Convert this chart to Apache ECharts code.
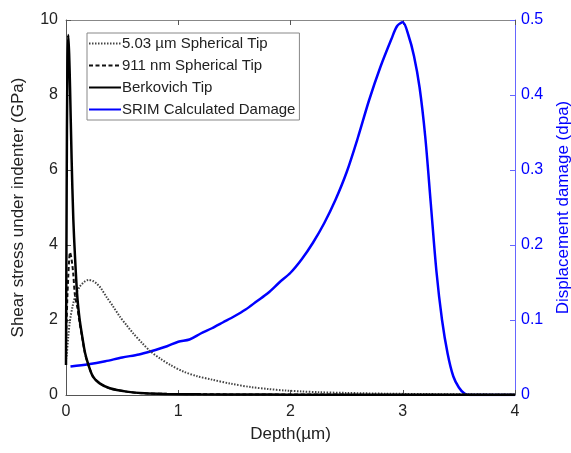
<!DOCTYPE html>
<html>
<head>
<meta charset="utf-8">
<script src="https://cdn.jsdelivr.net/npm/echarts@6/dist/echarts.min.js"></script>
<style>
html,body{margin:0;padding:0;background:#fff;}
#chart{width:571px;height:453px;}
</style>
</head>
<body>
<div id="chart"></div>
<script>
// ---- Data ----
var xTicks = [0, 1, 2, 3, 4];
var leftTicks = [0, 2, 4, 6, 8, 10];
var rightTicks = [0, 0.1, 0.2, 0.3, 0.4, 0.5];

var seriesNames = ['5.03 \u00b5m Spherical Tip', '911 nm Spherical Tip', 'Berkovich Tip', 'SRIM Calculated Damage'];

// 5.03 um spherical tip (GPa)
var sph5Depth = [0, 0.006, 0.02, 0.036, 0.06, 0.08, 0.1, 0.125, 0.16, 0.2, 0.24, 0.27, 0.31, 0.36, 0.42, 0.48, 0.54, 0.6, 0.68, 0.75, 0.84, 0.93, 1.05, 1.17, 1.3, 1.47, 1.65, 1.8, 1.95, 2.1, 2.25, 2.5, 2.85, 3.2, 3.6, 4.0];
var sph5Value = [0.95, 1.05, 1.55, 2.0, 2.38, 2.62, 2.77, 2.9, 3.01, 3.07, 3.04, 2.98, 2.85, 2.62, 2.36, 2.09, 1.86, 1.64, 1.38, 1.17, 0.97, 0.8, 0.62, 0.5, 0.41, 0.3, 0.21, 0.16, 0.12, 0.095, 0.075, 0.055, 0.035, 0.025, 0.018, 0.015];

// 911 nm spherical tip (GPa)
var sph911Depth = [0, 0.006, 0.012, 0.02, 0.028, 0.036, 0.045, 0.055, 0.065, 0.08, 0.1, 0.12, 0.14, 0.17, 0.2, 0.24, 0.3, 0.39, 0.54, 0.7, 0.9, 1.2, 1.6, 2.0, 2.5, 3.0, 3.5, 4.0];
var sph911Value = [1.4, 2.0, 2.6, 3.15, 3.6, 3.8, 3.7, 3.5, 3.22, 2.65, 2.35, 1.95, 1.6, 1.1, 0.8, 0.5, 0.31, 0.18, 0.09, 0.045, 0.03, 0.02, 0.015, 0.012, 0.01, 0.01, 0.01, 0.01];

// Berkovich tip (GPa)
var berkDepth = [0, 0.006, 0.012, 0.02, 0.028, 0.036, 0.05, 0.065, 0.08, 0.1, 0.12, 0.14, 0.17, 0.2, 0.24, 0.3, 0.39, 0.54, 0.7, 0.9, 1.2, 1.6, 2.0, 2.5, 3.0, 3.5, 4.0];
var berkValue = [0.8, 5.5, 8.6, 9.6, 9.1, 8.2, 6.3, 4.7, 3.7, 2.65, 2.05, 1.65, 1.12, 0.8, 0.49, 0.31, 0.18, 0.09, 0.045, 0.028, 0.018, 0.012, 0.01, 0.008, 0.008, 0.008, 0.008];

// SRIM calculated damage (dpa)
var srimDepth = [0.04, 0.2, 0.35, 0.5, 0.65, 0.75, 0.9, 1.0, 1.1, 1.2, 1.3, 1.4, 1.5, 1.6, 1.7, 1.8, 1.9, 2.0, 2.1, 2.2, 2.3, 2.4, 2.5, 2.6, 2.7, 2.8, 2.9, 2.95, 3.0, 3.05, 3.1, 3.15, 3.2, 3.25, 3.3, 3.35, 3.4, 3.45, 3.5, 3.55, 3.6, 3.8, 4.0];
var srimValue = [0.038, 0.041, 0.045, 0.05, 0.054, 0.058, 0.065, 0.071, 0.074, 0.082, 0.089, 0.097, 0.105, 0.114, 0.125, 0.136, 0.15, 0.163, 0.181, 0.203, 0.229, 0.26, 0.297, 0.343, 0.393, 0.437, 0.475, 0.492, 0.497, 0.48, 0.452, 0.41, 0.345, 0.255, 0.165, 0.1, 0.055, 0.025, 0.01, 0.002, 0, 0, 0];

function pairs(xs, ys) {
  var out = [];
  for (var i = 0; i < xs.length; i++) out.push([xs[i], ys[i]]);
  return out;
}

var FONT = '"Liberation Sans", Arial, Helvetica, sans-serif';
var AXIS_GRAY = '#555';
var BLUE = '#0000ff';

var chart = echarts.init(document.getElementById('chart'), null, {renderer: 'canvas'});

var option = {
  animation: false,
  backgroundColor: '#fff',
  textStyle: {fontFamily: FONT},
  grid: {left: 66, right: 56, top: 20, bottom: 58, containLabel: false, outerBoundsMode: 'none'},
  legend: {
    orient: 'vertical',
    left: 87,
    top: 33,
    data: seriesNames,
    backgroundColor: '#fff',
    borderColor: '#888',
    borderWidth: 1,
    borderRadius: 0,
    padding: [3, 4, 3, 1],
    itemWidth: 32,
    itemHeight: 14,
    itemGap: 7,
    itemStyle: {opacity: 0, borderWidth: 0},
    textStyle: {fontFamily: FONT, fontSize: 15, color: '#222', padding: [0, 0, 0, -4]}
  },
  xAxis: [{
    type: 'value',
    min: 0, max: 4, interval: 1,
    position: 'bottom',
    name: 'Depth(\u00b5m)',
    nameLocation: 'middle',
    nameGap: 31,
    nameTextStyle: {fontFamily: FONT, fontSize: 17, color: '#222'},
    axisLine: {show: true, onZero: false, lineStyle: {color: AXIS_GRAY, width: 1}},
    axisTick: {show: true, inside: true, length: 5, lineStyle: {color: AXIS_GRAY}},
    axisLabel: {fontFamily: FONT, fontSize: 16, color: '#222', margin: 9,
      formatter: function (v) { return xTicks.indexOf(v) >= 0 ? String(v) : ''; }},
    splitLine: {show: false}
  }, {
    type: 'value',
    min: 0, max: 4, interval: 1,
    position: 'top',
    axisLine: {show: true, onZero: false, lineStyle: {color: '#888', width: 1}},
    axisTick: {show: true, inside: true, length: 5, lineStyle: {color: AXIS_GRAY}},
    axisLabel: {show: false},
    splitLine: {show: false}
  }],
  yAxis: [{
    type: 'value',
    min: 0, max: 10, interval: 2,
    position: 'left',
    name: 'Shear stress under indenter (GPa)',
    nameLocation: 'middle',
    nameGap: 39,
    nameTextStyle: {fontFamily: FONT, fontSize: 17, color: '#222'},
    axisLine: {show: true, onZero: false, lineStyle: {color: AXIS_GRAY, width: 1}},
    axisTick: {show: true, inside: true, length: 5, lineStyle: {color: AXIS_GRAY}},
    axisLabel: {fontFamily: FONT, fontSize: 16, color: '#222', margin: 8,
      formatter: function (v) { return leftTicks.indexOf(v) >= 0 ? String(v) : ''; }},
    splitLine: {show: false}
  }, {
    type: 'value',
    min: 0, max: 0.5, interval: 0.1,
    position: 'right',
    name: 'Displacement damage (dpa)',
    nameLocation: 'middle',
    nameGap: 40,
    nameTextStyle: {fontFamily: FONT, fontSize: 17, color: BLUE},
    axisLine: {show: true, onZero: false, lineStyle: {color: '#6666ff', width: 1}},
    axisTick: {show: true, inside: true, length: 5, lineStyle: {color: '#6666ff'}},
    axisLabel: {fontFamily: FONT, fontSize: 16, color: BLUE, margin: 6,
      formatter: function (v) {
        for (var i = 0; i < rightTicks.length; i++) {
          if (Math.abs(rightTicks[i] - v) < 1e-9) return String(rightTicks[i]);
        }
        return '';
      }},
    splitLine: {show: false}
  }],
  series: [{
    name: seriesNames[0],
    type: 'line',
    xAxisIndex: 0, yAxisIndex: 0,
    data: pairs(sph5Depth, sph5Value),
    showSymbol: false, symbol: 'none',
    smooth: 0.3,
    color: '#444',
    lineStyle: {color: '#444', width: 2, type: [1.5, 1.5]},
    z: 3
  }, {
    name: seriesNames[1],
    type: 'line',
    xAxisIndex: 0, yAxisIndex: 0,
    data: pairs(sph911Depth, sph911Value),
    showSymbol: false, symbol: 'none',
    smooth: 0.3,
    color: '#111',
    lineStyle: {color: '#111', width: 2, type: [4, 2.5]},
    z: 4
  }, {
    name: seriesNames[2],
    type: 'line',
    xAxisIndex: 0, yAxisIndex: 0,
    data: pairs(berkDepth, berkValue),
    showSymbol: false, symbol: 'none',
    smooth: 0.3,
    color: '#000',
    lineStyle: {color: '#000', width: 2.5, type: 'solid'},
    z: 5
  }, {
    name: seriesNames[3],
    type: 'line',
    xAxisIndex: 0, yAxisIndex: 1,
    data: pairs(srimDepth, srimValue),
    showSymbol: false, symbol: 'none',
    smooth: 0.3,
    color: BLUE,
    lineStyle: {color: BLUE, width: 2.5, type: 'solid'},
    z: 2
  }]
};

chart.setOption(option);
</script>
</body>
</html>
